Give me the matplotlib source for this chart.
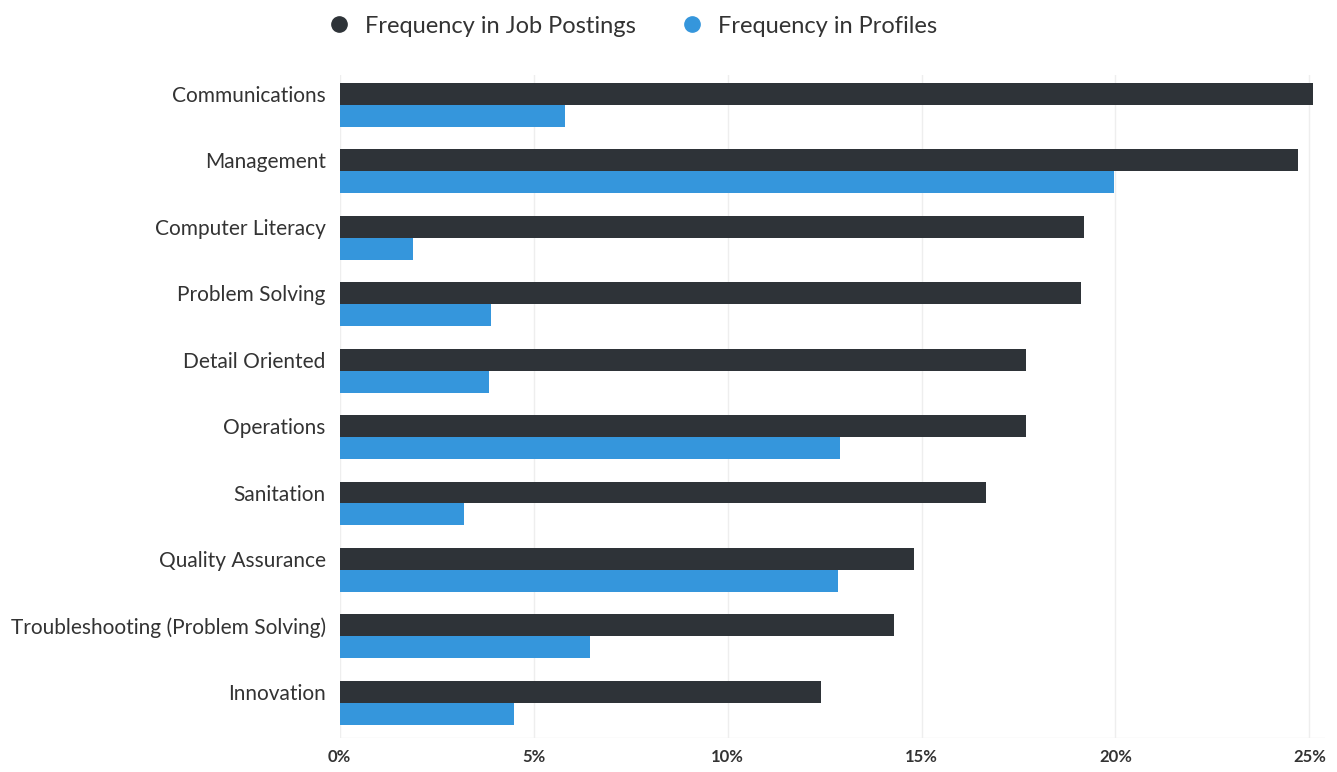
import matplotlib.pyplot as plt
import numpy as np
from matplotlib.lines import Line2D

plt.rcParams['font.family'] = ['Lato', 'DejaVu Sans']

# ------------------ data ------------------
skills = ["Communications", "Management", "Computer Literacy", "Problem Solving",
          "Detail Oriented", "Operations", "Sanitation", "Quality Assurance",
          "Troubleshooting (Problem Solving)", "Innovation"]
job_postings = [25.1, 24.7, 19.2, 19.1, 17.7, 17.7, 16.65, 14.8, 14.3, 12.4]
profiles = [5.8, 19.95, 1.9, 3.9, 3.85, 12.9, 3.2, 12.85, 6.45, 4.5]
xticks = [0, 5, 10, 15, 20, 25]
xtick_labels = ["0%", "5%", "10%", "15%", "20%", "25%"]

dark = "#2e3338"
blue = "#3596dc"

fig = plt.figure(figsize=(13.37, 7.72), dpi=100)
ax = fig.add_axes([0.254, 0.044, 0.737, 0.859])

y = np.arange(len(skills))
h = 0.33
ax.barh(y - h / 2, job_postings, height=h, color=dark, zorder=3)
ax.barh(y + h / 2, profiles, height=h, color=blue, zorder=3)

ax.set_ylim(9.53, -0.45)
ax.set_xlim(0, 25.4)
# labels sit next to the dark bar, as in the original
ax.set_yticks(y - h / 2)
ax.set_yticklabels(skills, fontsize=15, color="#333333")
ax.set_xticks(xticks)
ax.set_xticklabels(xtick_labels, fontsize=12, fontweight="bold", color="#333333")
ax.tick_params(axis="y", length=0, pad=10)
ax.tick_params(axis="x", length=0, pad=8)

ax.grid(axis="x", color="#eeeeee", linewidth=1, zorder=0)
for s in ax.spines.values():
    s.set_visible(False)
ax.axhline(9.53, color="#eeeeee", linewidth=1)

# ------------------ legend ------------------
handles = [
    Line2D([], [], marker="o", linestyle="", markersize=11, color=dark),
    Line2D([], [], marker="o", linestyle="", markersize=11, color=blue),
]
fig.legend(handles, ["Frequency in Job Postings", "Frequency in Profiles"],
           loc="center", bbox_to_anchor=(0.472, 0.966), ncol=2, frameon=False,
           fontsize=17, handletextpad=0.5, columnspacing=1.8, handlelength=1.2,
           labelcolor="#333333")

fig.savefig("out.png", dpi=100)
